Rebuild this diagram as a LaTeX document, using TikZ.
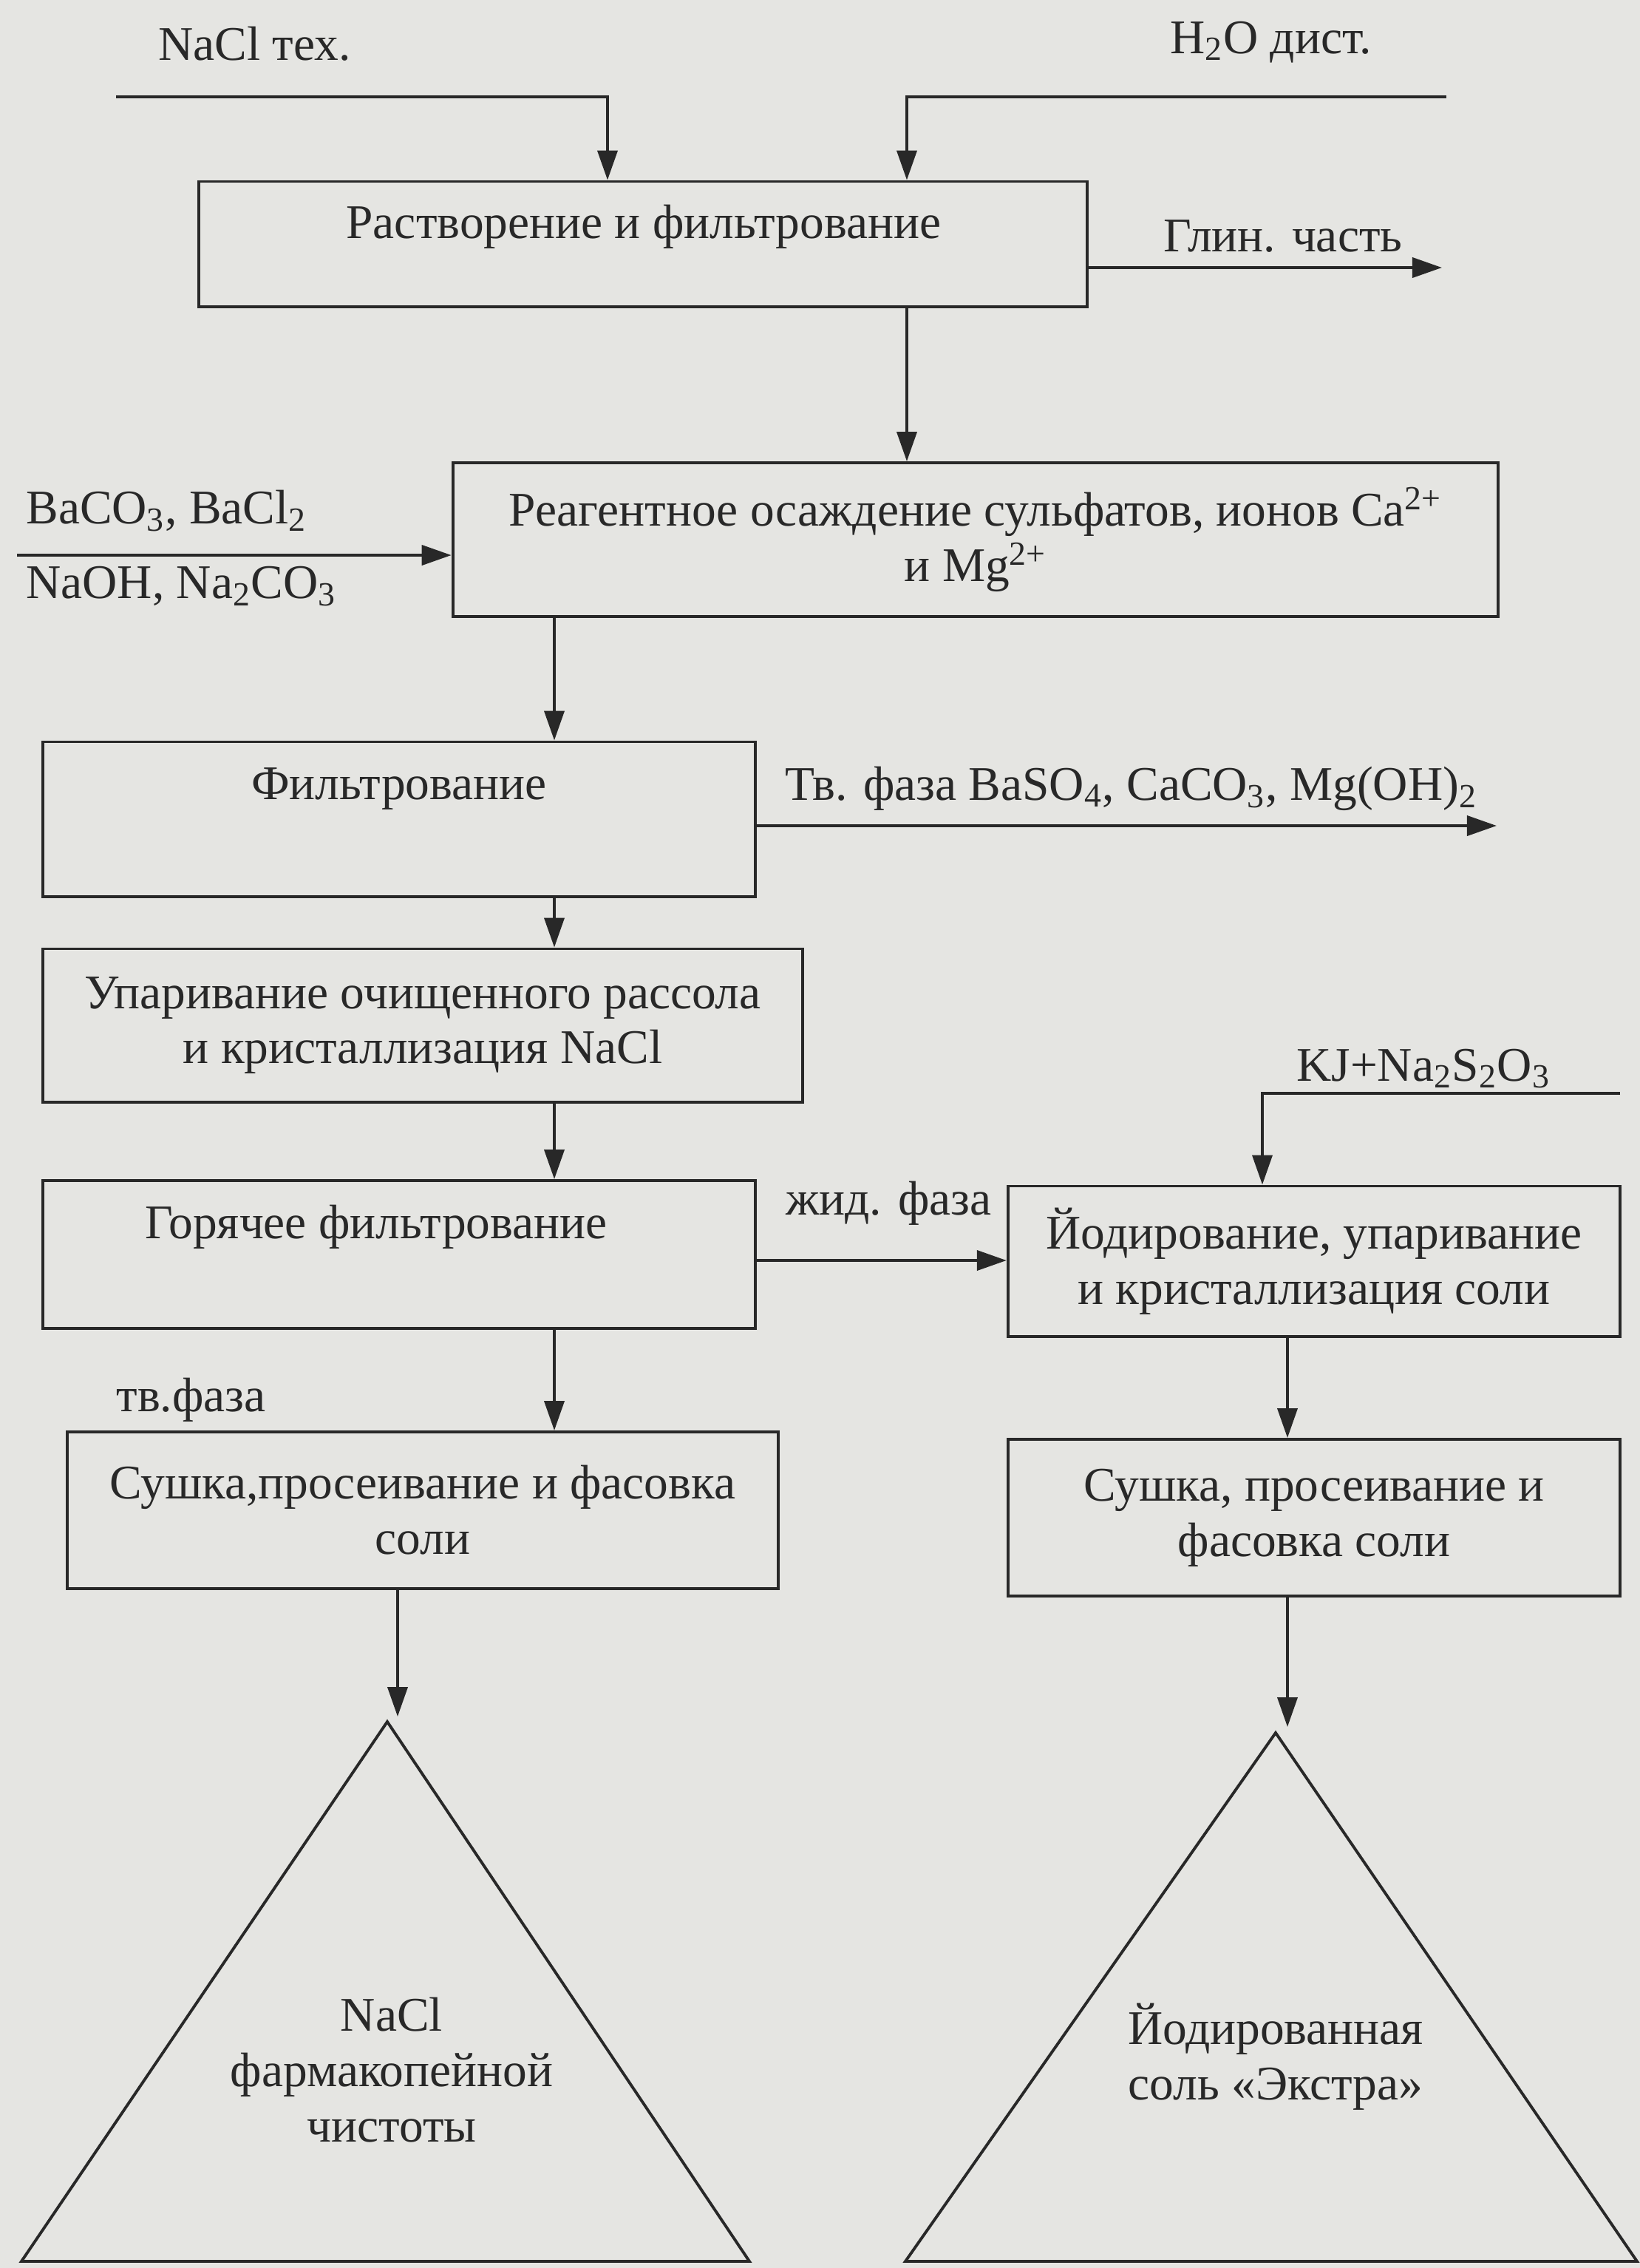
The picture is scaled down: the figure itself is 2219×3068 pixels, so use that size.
\documentclass[tikz,border=0pt]{standalone}
\usepackage{fontspec}
\setmainfont{Liberation Serif}
\usetikzlibrary{arrows.meta}
\definecolor{paper}{RGB}{229,229,226}
\definecolor{ink}{RGB}{40,40,40}
\begin{document}
\begin{tikzpicture}[x=0.01cm,y=-0.01cm,
  every node/.style={text=ink,font=\fontsize{18.6}{21.3}\selectfont},
  box/.style 2 args={draw=ink,line width=1.1pt,minimum width=#1,minimum height=#2,align=center,inner sep=0pt},
  flow/.style={draw=ink,line width=1.1pt,-{Triangle[length=0.4cm,width=0.27cm]}},
  plain/.style={draw=ink,line width=1.1pt}]
\fill[paper] (0,0) rectangle (2219,3068);

% process boxes
\node[box={12.01cm}{1.69cm}] (b1) at (870,330) {};
\node (t1) at (871,307) {Растворение и фильтрование};
\node[box={14.14cm}{2.08cm}] (b2) at (1320,730) {Реагентное осаждение сульфатов, ионов Ca\textsuperscript{2+}\\и Mg\textsuperscript{2+}};
\node[box={9.63cm}{2.09cm}] (b3) at (540,1108) {};
\node (t3) at (540,1067) {Фильтрование};
\node[box={10.27cm}{2.07cm}] (b4) at (572,1387) {Упаривание очищенного рассола\\и кристаллизация NaCl};
\node[box={9.63cm}{2.00cm}] (b5) at (540,1697) {};
\node (t5) at (509,1660) {Горячее фильтрование};
\node[box={8.28cm}{2.03cm}] (b6) at (1778,1706) {Йодирование, упаривание\\и кристаллизация соли};
\node[box={9.61cm}{2.12cm}] (b7) at (572,2043) {Сушка,просеивание и фасовка\\соли};
\node[box={8.28cm}{2.12cm}] (b8) at (1778,2053) {Сушка, просеивание и\\фасовка соли};

% streams in and out
\node[anchor=west] (nacl) at (202,59) {NaCl тех.};
\node[anchor=west] (water) at (1571,57) {H\textsubscript{2}O дист.};
\coordinate (in1) at (157,131);
\coordinate (in2) at (1957,131);
\draw[flow] (in1) -| (b1.north -| 822,0);
\draw[flow] (in2) -| (b1.north -| 1227,0);

\node[anchor=west] (clay) at (1562,320) {Глин. часть};
\coordinate (out1) at (1951,362);
\draw[flow] (b1.east |- 0,362) -- (out1);
\draw[flow] (b1.south -| 1227,0) -- (b2.north -| 1227,0);

\node[anchor=west] (reag1) at (23,691) {BaCO\textsubscript{3}, BaCl\textsubscript{2}};
\node[anchor=west] (reag2) at (23,793) {NaOH, Na\textsubscript{2}CO\textsubscript{3}};
\coordinate (in3) at (23,751);
\draw[flow] (in3) -- (b2.west |- 0,751);
\draw[flow] (b2.south -| 750,0) -- (b3.north -| 750,0);

\node[anchor=west] (solid) at (1050,1067) {Тв. фаза BaSO\textsubscript{4}, CaCO\textsubscript{3}, Mg(OH)\textsubscript{2}};
\coordinate (out2) at (2025,1117);
\draw[flow] (b3.east |- 0,1117) -- (out2);
\draw[flow] (b3.south -| 750,0) -- (b4.north -| 750,0);
\draw[flow] (b4.south -| 750,0) -- (b5.north -| 750,0);

\node[anchor=west] (liq) at (1051,1628) {жид. фаза};
\draw[flow] (b5.east |- 0,1705) -- (b6.west |- 0,1705);
\node[anchor=base west] (iod) at (1742,1462) {KJ+Na\textsubscript{2}S\textsubscript{2}O\textsubscript{3}};
\coordinate (in4) at (2192,1479);
\draw[flow] (in4) -| (b6.north -| 1708,0);

\node[anchor=west] (solid2) at (145,1894) {тв.фаза};
\draw[flow] (b5.south -| 750,0) -- (b7.north -| 750,0);
\draw[flow] (b6.south -| 1742,0) -- (b8.north -| 1742,0);

% products
\coordinate (a1) at (524,2329);
\coordinate (a2) at (1726,2344);
\draw[plain] (a1) -- (29,3059) -- (1014,3059) -- cycle;
\draw[plain] (a2) -- (1225,3059) -- (2215,3059) -- cycle;
\node[align=center] (p1) at (530,2800) {NaCl\\фармакопейной\\чистоты};
\node[align=center] (p2) at (1726,2782) {Йодированная\\соль «Экстра»};
\coordinate (e1) at (538,2322);
\coordinate (e2) at (1742,2336);
\draw[flow] (b7.south -| 538,0) -- (e1);
\draw[flow] (b8.south -| 1742,0) -- (e2);
\end{tikzpicture}
\end{document}
